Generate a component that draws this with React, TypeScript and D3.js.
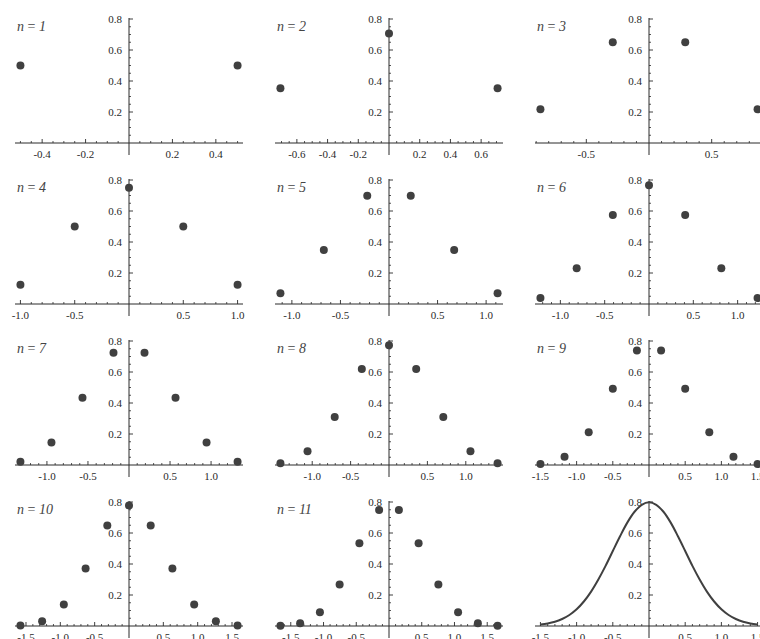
import React from "react";
import * as d3 from "d3";

const width = 760;
const height = 639;

// panel titles (n) for the eleven point panels; the twelfth is the limit curve
const panelN = ["1", "2", "3", "4", "5", "6", "7", "8", "9", "10", "11"];

// point positions
const pointsX = [
  [-0.5, 0.5],
  [-0.707, 0, 0.707],
  [-0.866, -0.289, 0.289, 0.866],
  [-1, -0.5, 0, 0.5, 1],
  [-1.118, -0.671, -0.224, 0.224, 0.671, 1.118],
  [-1.225, -0.816, -0.408, 0, 0.408, 0.816, 1.225],
  [-1.323, -0.945, -0.567, -0.189, 0.189, 0.567, 0.945, 1.323],
  [-1.414, -1.061, -0.707, -0.354, 0, 0.354, 0.707, 1.061, 1.414],
  [-1.5, -1.167, -0.833, -0.5, -0.167, 0.167, 0.5, 0.833, 1.167, 1.5],
  [-1.581, -1.265, -0.949, -0.632, -0.316, 0, 0.316, 0.632, 0.949, 1.265, 1.581],
  [-1.658, -1.357, -1.055, -0.754, -0.452, -0.151, 0.151, 0.452, 0.754, 1.055, 1.357, 1.658],
];

const pointsY = [
  [0.5, 0.5],
  [0.354, 0.707, 0.354],
  [0.217, 0.65, 0.65, 0.217],
  [0.125, 0.5, 0.75, 0.5, 0.125],
  [0.07, 0.349, 0.699, 0.699, 0.349, 0.07],
  [0.038, 0.23, 0.574, 0.766, 0.574, 0.23, 0.038],
  [0.021, 0.145, 0.434, 0.724, 0.724, 0.434, 0.145, 0.021],
  [0.011, 0.088, 0.309, 0.619, 0.773, 0.619, 0.309, 0.088, 0.011],
  [0.006, 0.053, 0.211, 0.492, 0.738, 0.738, 0.492, 0.211, 0.053, 0.006],
  [0.003, 0.031, 0.139, 0.371, 0.649, 0.778, 0.649, 0.371, 0.139, 0.031, 0.003],
  [0.002, 0.018, 0.089, 0.267, 0.534, 0.748, 0.748, 0.534, 0.267, 0.089, 0.018, 0.002],
];

// bell curve in the last panel
const curveX = [
  -1.5, -1.4, -1.3, -1.2, -1.1, -1.0, -0.9, -0.8, -0.7, -0.6, -0.5, -0.4, -0.3, -0.2, -0.1, 0,
  0.1, 0.2, 0.3, 0.4, 0.5, 0.6, 0.7, 0.8, 0.9, 1.0, 1.1, 1.2, 1.3, 1.4, 1.5,
];
const curveY = [
  0.009, 0.016, 0.027, 0.045, 0.071, 0.108, 0.158, 0.222, 0.3, 0.388, 0.484, 0.579, 0.667, 0.737, 0.782, 0.798,
  0.782, 0.737, 0.667, 0.579, 0.484, 0.388, 0.3, 0.222, 0.158, 0.108, 0.071, 0.045, 0.027, 0.016, 0.009,
];

const xTickValues = [
  [-0.4, -0.2, 0.2, 0.4],
  [-0.6, -0.4, -0.2, 0.2, 0.4, 0.6],
  [-0.5, 0.5],
  [-1, -0.5, 0.5, 1],
  [-1, -0.5, 0.5, 1],
  [-1, -0.5, 0.5, 1],
  [-1, -0.5, 0.5, 1],
  [-1, -0.5, 0.5, 1],
  [-1.5, -1, -0.5, 0.5, 1, 1.5],
  [-1.5, -1, -0.5, 0.5, 1, 1.5],
  [-1.5, -1, -0.5, 0.5, 1, 1.5],
  [-1.5, -1, -0.5, 0.5, 1, 1.5],
];
const xTickLabels = [
  ["-0.4", "-0.2", "0.2", "0.4"],
  ["-0.6", "-0.4", "-0.2", "0.2", "0.4", "0.6"],
  ["-0.5", "0.5"],
  ["-1.0", "-0.5", "0.5", "1.0"],
  ["-1.0", "-0.5", "0.5", "1.0"],
  ["-1.0", "-0.5", "0.5", "1.0"],
  ["-1.0", "-0.5", "0.5", "1.0"],
  ["-1.0", "-0.5", "0.5", "1.0"],
  ["-1.5", "-1.0", "-0.5", "0.5", "1.0", "1.5"],
  ["-1.5", "-1.0", "-0.5", "0.5", "1.0", "1.5"],
  ["-1.5", "-1.0", "-0.5", "0.5", "1.0", "1.5"],
  ["-1.5", "-1.0", "-0.5", "0.5", "1.0", "1.5"],
];
const minorSteps = [0.05, 0.05, 0.1, 0.1, 0.1, 0.1, 0.1, 0.1, 0.1, 0.1, 0.1, 0.1];

const yTickValues = [0.2, 0.4, 0.6, 0.8];
const yTickLabels = ["0.2", "0.4", "0.6", "0.8"];

const panelW = 228;
const plotH = 124;
const ink = "#2a2a2a";
const dot = "#404040";
const font = "'Liberation Serif', 'Times New Roman', serif";

type PanelProps = { i: number };

const Panel = ({ i }: PanelProps) => {
  const col = i % 3;
  const row = Math.floor(i / 3);
  const left = 15 + col * 260;
  const axisY = 143 + row * 161;
  const isCurve = i === 11;

  const xmax = isCurve ? 1.575 : d3.max(pointsX[i], (d) => Math.abs(d))! * 1.05;
  const x = d3.scaleLinear().domain([-xmax, xmax]).range([left, left + panelW]);
  const y = d3.scaleLinear().domain([0, 0.8]).range([axisY, axisY - plotH]);

  const step = minorSteps[i];
  const minorX = d3
    .range(Math.ceil(-xmax / step), Math.floor(xmax / step) + 1)
    .map((k) => k * step)
    .filter((v) => !xTickValues[i].some((t) => Math.abs(t - v) < 1e-6) && Math.abs(v) > 1e-6);
  const minorY = d3
    .range(1, 17)
    .map((k) => k * 0.05)
    .filter((v) => !yTickValues.some((t) => Math.abs(t - v) < 1e-6));

  const x0 = x(0);
  const line = d3
    .line<number>()
    .x((_, j) => x(curveX[j]))
    .y((d) => y(d))
    .curve(d3.curveCatmullRom);

  return (
    <g>
      {/* x axis */}
      <line x1={left} x2={left + panelW} y1={axisY} y2={axisY} stroke={ink} strokeWidth={1} />
      {minorX.map((v) => (
        <line key={"mx" + v} x1={x(v)} x2={x(v)} y1={axisY} y2={axisY - 2} stroke={ink} strokeWidth={0.8} />
      ))}
      {xTickValues[i].map((v, j) => (
        <g key={"x" + v}>
          <line x1={x(v)} x2={x(v)} y1={axisY} y2={axisY - 4} stroke={ink} strokeWidth={0.9} />
          <text
            x={x(v)}
            y={axisY + 15}
            textAnchor="middle"
            fontFamily={font}
            fontSize={11}
            fill={ink}
          >
            {xTickLabels[i][j]}
          </text>
        </g>
      ))}

      {/* y axis */}
      <line x1={x0} x2={x0} y1={axisY + 12} y2={y(0.8) - 1} stroke={ink} strokeWidth={1} />
      {minorY.map((v) => (
        <line key={"my" + v} x1={x0} x2={x0 + 2} y1={y(v)} y2={y(v)} stroke={ink} strokeWidth={0.8} />
      ))}
      {yTickValues.map((v, j) => (
        <g key={"y" + v}>
          <line x1={x0} x2={x0 + 4} y1={y(v)} y2={y(v)} stroke={ink} strokeWidth={0.9} />
          <text
            x={x0 - 7}
            y={y(v) + 4}
            textAnchor="end"
            fontFamily={font}
            fontSize={11}
            fill={ink}
          >
            {yTickLabels[j]}
          </text>
        </g>
      ))}

      {isCurve ? (
        <path d={line(curveY) ?? ""} fill="none" stroke={dot} strokeWidth={2} />
      ) : (
        <>
          {pointsY[i].map((v, j) => (
            <circle key={j} cx={x(pointsX[i][j])} cy={y(v)} r={4} fill={dot} />
          ))}
          <text x={left + 2} y={axisY - 112} fontFamily={font} fontSize={14} fill="#444">
            <tspan fontStyle="italic">n</tspan>
            <tspan> = </tspan>
            <tspan fontStyle="italic">{panelN[i]}</tspan>
          </text>
        </>
      )}
    </g>
  );
};

export default function App() {
  return (
    <svg
      width={width}
      height={height}
      style={{ position: "absolute", left: 0, top: 0, background: "#fff" }}
    >
      <rect width={width} height={height} fill="#fff" />
      {d3.range(12).map((i) => (
        <Panel key={i} i={i} />
      ))}
    </svg>
  );
}
